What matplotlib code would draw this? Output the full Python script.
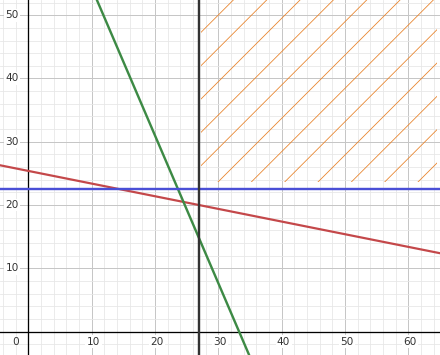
import matplotlib
matplotlib.use("Agg")
import matplotlib.pyplot as plt
import numpy as np

# data
x_range = [-4.47, 65.0]
y_range = [-3.68, 52.4]
x_ticks = [10, 20, 30, 40, 50, 60]
y_ticks = [10, 20, 30, 40, 50]
red_intercept, red_slope = 25.4, -0.2          # y = 25.4 - 0.2x
green_intercept, green_slope = 233 / 3, -7 / 3  # 7x + 3y = 233
blue_y = 22.5
black_x = 27
hatch_x = [27.3, 64.5]
hatch_y = [23.6, 52.4]

DPI = 200
px = 72 / DPI  # points per pixel
plt.rcParams['hatch.linewidth'] = 0.8 * px
plt.rcParams['hatch.color'] = '#e8822a'

fig = plt.figure(figsize=(440 / DPI, 355 / DPI), dpi=DPI)
ax = fig.add_axes([0, 0, 1, 1])
ax.set_xlim(*x_range)
ax.set_ylim(*y_range)
for s in ax.spines.values():
    s.set_visible(False)
ax.set_xticks([])
ax.set_yticks([])

# grid
for v in np.arange(-4, 66, 2):
    major = v % 10 == 0
    ax.axvline(v, color='#c6c6c6' if major else '#e6e6e6', lw=(1.0 if major else 0.8) * px, zorder=0)
for v in np.arange(-2, 53, 2):
    major = v % 10 == 0
    ax.axhline(v, color='#c6c6c6' if major else '#e6e6e6', lw=(1.0 if major else 0.8) * px, zorder=0)

# axes
ax.axhline(0, color='black', lw=1.3 * px, zorder=1)
ax.axvline(0, color='black', lw=1.3 * px, zorder=1)

# hatched region
ax.fill_between(hatch_x, hatch_y[0], hatch_y[1], facecolor='none', edgecolor='#e8822a',
                hatch='//', lw=0, zorder=1)

xs = np.array(x_range)
ax.plot(xs, red_intercept + red_slope * xs, color='#c4484a', lw=2.2 * px, zorder=3)
ax.plot(xs, green_intercept + green_slope * xs, color='#3d8a45', lw=2.4 * px, zorder=3)
ax.axhline(blue_y, color='#4a4fd6', lw=2.4 * px, zorder=3)
ax.axvline(black_x, color='#333333', lw=2.4 * px, zorder=3)

fs = 10.5 * px
bbox = dict(facecolor='white', edgecolor='none', pad=0.5)
for t in x_ticks:
    ax.text(t + 0.3, -1.55, str(t), ha='center', va='center', fontsize=fs,
            color='#333333', bbox=bbox, zorder=2)
for t in y_ticks:
    ax.text(-1.5, t, str(t), ha='right', va='center', fontsize=fs,
            color='#333333', bbox=bbox, zorder=2)
ax.text(-1.5, -1.55, '0', ha='right', va='center', fontsize=fs, color='#333333', zorder=2)

fig.savefig('out.png', dpi=DPI)
